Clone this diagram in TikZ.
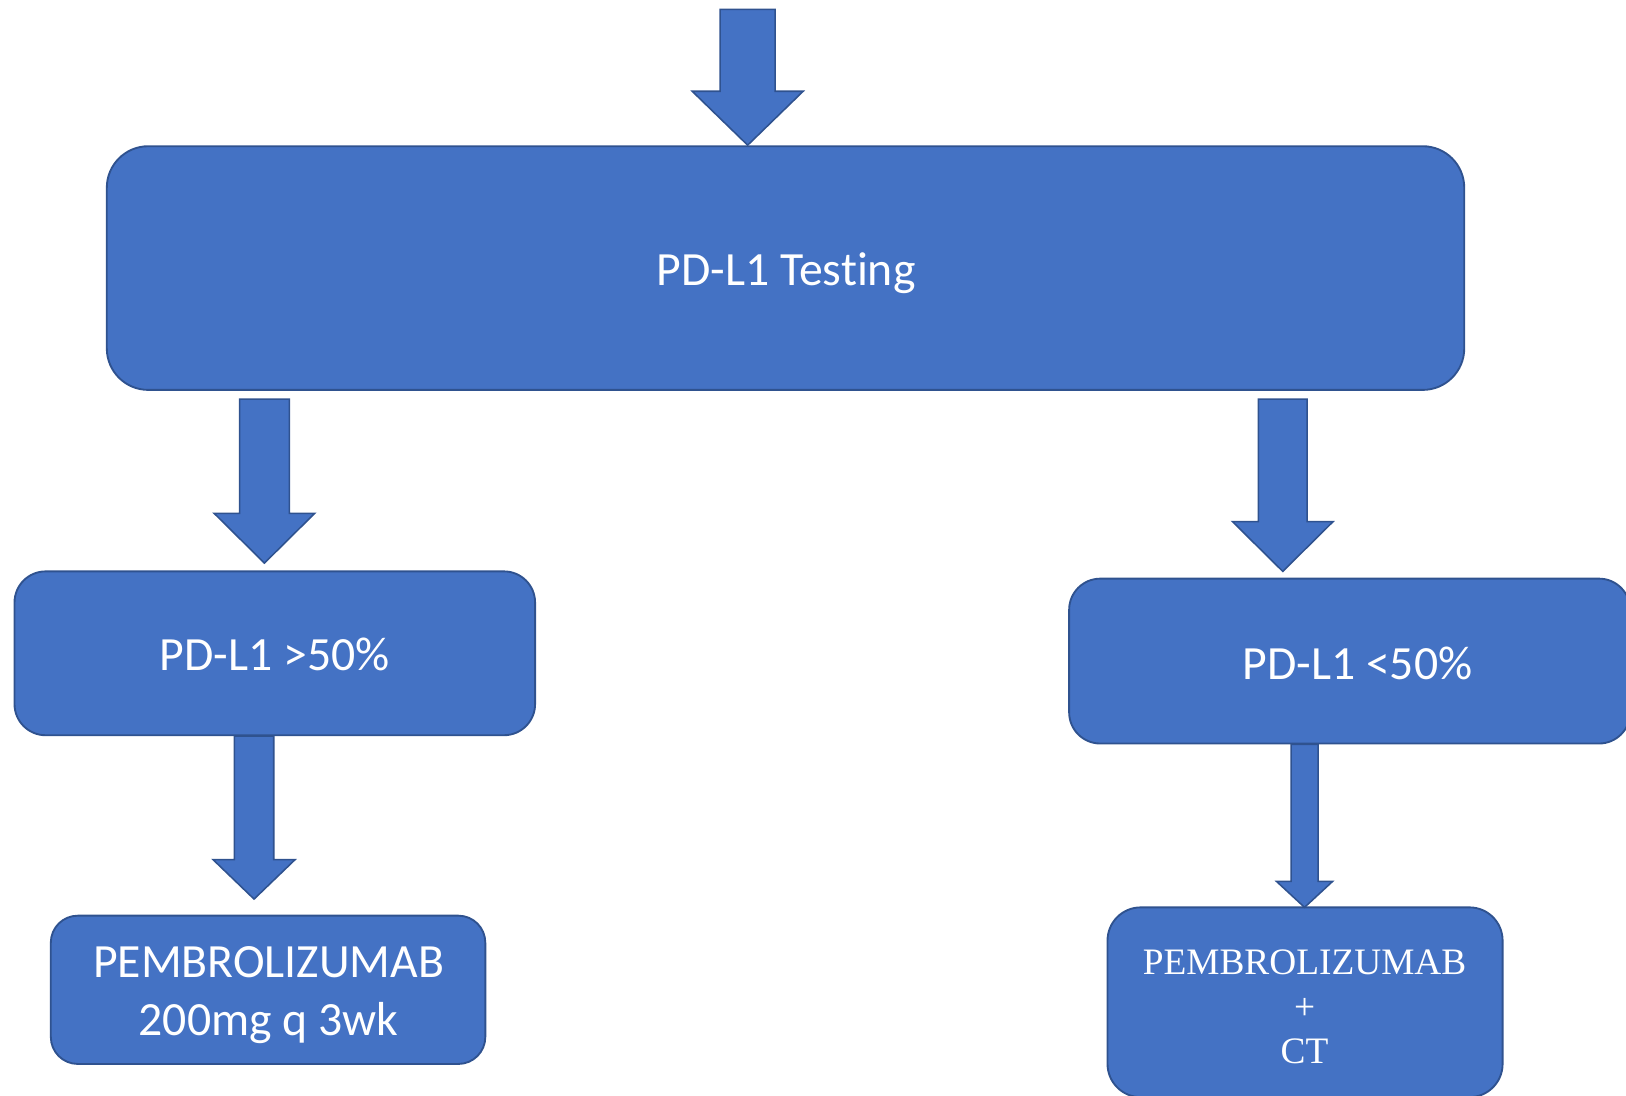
\documentclass[tikz,border=0pt]{standalone}
\usepackage{fontspec}
\setmainfont{Carlito}[Ligatures={NoCommon}]
\newfontfamily\serifface{Liberation Serif}
\usetikzlibrary{calc}
\definecolor{boxfill}{HTML}{4472C4}
\definecolor{boxline}{HTML}{2F528F}

% block arrow: #1 start point (only its y is used), #2 tip,
% #3 shaft half width, #4 head half width, #5 head length
\newcommand\blockarrow[5]{%
  \draw[barrow]
    ($(#2 |- #1)+(-#3,0)$) -- ($(#2)+(-#3,-#5)$) -- ($(#2)+(-#4,-#5)$) -- (#2)
    -- ($(#2)+(#4,-#5)$) -- ($(#2)+(#3,-#5)$) -- ($(#2 |- #1)+(#3,0)$) -- cycle;}

\begin{document}
\begin{tikzpicture}[x=1pt,y=-1pt,
  box/.style={draw=boxline, fill=boxfill, line width=1.8pt, inner sep=0pt},
  lbl/.style={text=white, align=center, inner sep=0pt,
    font=\fontsize{46}{56}\selectfont},
  serlbl/.style={text=white, align=center, inner sep=0pt,
    font=\serifface\fontsize{36}{43}\selectfont},
  barrow/.style={draw=boxline, fill=boxfill, line width=1.5pt, line join=miter}]
\useasboundingbox (0,0) rectangle (1568,1056);

% boxes
\node[box, rounded corners=40pt, minimum width=1309pt, minimum height=235pt]
  (test) at (757.5,258.5) {};
\node[box, rounded corners=30pt, minimum width=502pt, minimum height=158pt]
  (high) at (265,630) {};
\node[box, rounded corners=30pt, minimum width=541pt, minimum height=159pt]
  (low) at (1301.5,637.5) {};
\node[box, rounded corners=26pt, minimum width=419pt, minimum height=143pt]
  (mono) at (258.5,954.5) {};
\node[box, rounded corners=32pt, minimum width=381pt, minimum height=183pt]
  (combo) at (1258.5,966.5) {};

% labels
\node[lbl] (testlbl) at (758,263) {PD-L1 Testing};
\node[lbl] (highlbl) at (265,631) {PD-L1 >50\%};
\node[lbl] (lowlbl) at (1309,640) {PD-L1 <50\%};
\node[lbl] (monolbl) at (259,960) {PEMBROLIZUMAB\\200mg q 3wk};
\node[serlbl] (combolbl) at (1258,971) {PEMBROLIZUMAB\\+\\CT};

% arrow ends
\coordinate (in) at (721,9);
\coordinate (out) at ($(test.south)+(0,8)$);
\coordinate (tip0) at (721,140);
\coordinate (tip1) at (255,543);
\coordinate (tip2) at (1237,551);
\coordinate (tip3) at (245,867);
\coordinate (tip4) at (1258,875);

% block arrows
\blockarrow{in}{tip0}{26.5}{53.5}{52}
\blockarrow{out}{tip1}{24}{48.5}{48}
\blockarrow{out}{tip2}{23.5}{48.5}{48}
\blockarrow{high.south}{tip3}{19}{39.5}{38}
\blockarrow{low.south}{tip4}{13}{27}{25}
\end{tikzpicture}
\end{document}
